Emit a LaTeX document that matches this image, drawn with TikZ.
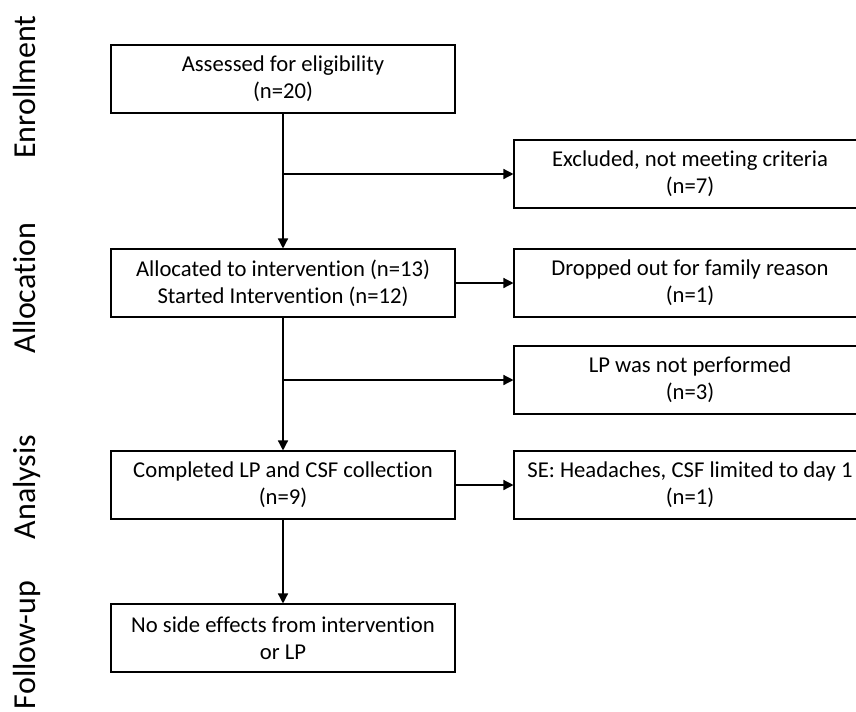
\documentclass[tikz,border=0pt]{standalone}
\usepackage{fontspec}
\setmainfont{Carlito}[Ligatures=NoCommon]
\usetikzlibrary{arrows.meta,positioning}

\begin{document}
\begin{tikzpicture}[x=0.75pt, y=-0.75pt,
  box/.style={draw, line width=0.8pt, minimum width=258pt, minimum height=51pt,
    inner sep=0pt, align=center, font=\fontsize{17}{20.5}\selectfont},
  sidebox/.style={box, minimum width=264pt},
  phase/.style={rotate=90, anchor=base, font=\fontsize{24}{28}\selectfont},
  flow/.style={line width=1pt, -{Triangle[length=7.5pt, width=7.5pt]}}]
  \useasboundingbox (0,0) rectangle (856,711);
  % phase labels
  \foreach \y/\t in {87/Enrollment, 288/Allocation, 487/Analysis, 645/Follow-up} {
    \node[phase] (phase-\y) at (35,\y) {\t};
  }
  % main column
  \node[box] (assess) at (283,79) {Assessed for eligibility\\(n=20)};
  \node[box] (alloc) at (283,283) {Allocated to intervention (n=13)\\Started Intervention (n=12)};
  \node[box] (compl) at (283,485) {Completed LP and CSF collection\\(n=9)};
  \node[box] (nose) at (283,638) {No side effects from intervention\\or LP};
  % side column
  \node[sidebox] (excl) at (690,174) {Excluded, not meeting criteria\\(n=7)};
  \node[sidebox] (drop) at (690,283) {Dropped out for family reason\\(n=1)};
  \node[sidebox] (nolp) at (690,380) {LP was not performed\\(n=3)};
  \node[sidebox] (se) at (690,485) {SE: Headaches, CSF limited to day 1\\(n=1)};
  % arrows
  \draw[flow] (assess) -- (alloc);
  \coordinate (br1) at (assess.south |- excl.west);
  \draw[flow] (br1) -- (excl.west);
  \draw[flow] (alloc) -- (drop);
  \draw[flow] (alloc) -- (compl);
  \coordinate (br2) at (alloc.south |- nolp.west);
  \draw[flow] (br2) -- (nolp.west);
  \draw[flow] (compl) -- (se);
  \draw[flow] (compl) -- (nose);
\end{tikzpicture}
\end{document}
